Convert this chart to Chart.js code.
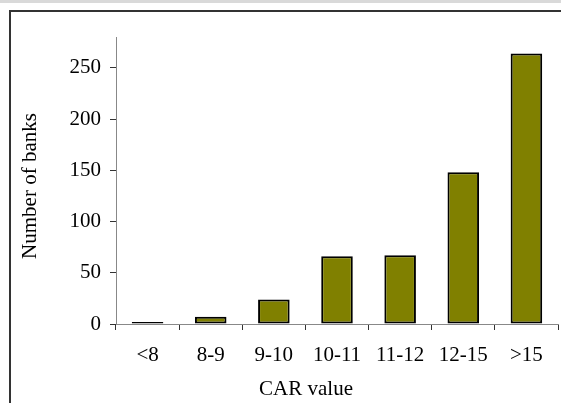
<!DOCTYPE html>
<html>
<head>
<meta charset="utf-8">
<script src="https://cdn.jsdelivr.net/npm/chart.js@4.4.0/dist/chart.umd.min.js"></script>
<style>
  html, body { margin: 0; padding: 0; background: #fff; }
  #wrap { position: relative; width: 561px; height: 403px; overflow: hidden; }
  #band { position: absolute; left: 0; top: 0; width: 561px; height: 3px; background: #d9d9d9; }
  #frame { position: absolute; left: 9px; top: 10px; width: 700px; height: 500px;
           border-left: 2px solid #333; border-top: 2px solid #333; }
  canvas { position: absolute; left: 0; top: 0; }
</style>
</head>
<body>
<div id="wrap">
  <div id="band"></div>
  <div id="frame"></div>
  <canvas id="chart" width="561" height="403"></canvas>
</div>
<script>
// CAR value buckets and how many banks fall in each
const carBuckets = ["<8", "8-9", "9-10", "10-11", "11-12", "12-15", ">15"];
const bankCounts = [2, 7, 24, 66, 67, 148, 264];
const yTicks = [0, 50, 100, 150, 200, 250];
const xTitle = "CAR value";
const yTitle = "Number of banks";

const serif = "'Liberation Serif', 'Times New Roman', serif";
const fontSize = 21;

// axis titles sit a bit off the chart-area centre in the original, so draw them by hand
const axisTitles = {
    id: "axisTitles",
    afterDraw(chart) {
        const ctx = chart.ctx;
        ctx.save();
        ctx.fillStyle = "#000";
        ctx.font = fontSize + "px " + serif;
        ctx.textAlign = "center";
        ctx.textBaseline = "alphabetic";
        ctx.fillText(xTitle, 306, 395);
        ctx.translate(36, 186);
        ctx.rotate(-Math.PI / 2);
        ctx.fillText(yTitle, 0, 0);
        ctx.restore();
    }
};

new Chart(document.getElementById("chart"), {
    type: "bar",
    data: {
        labels: carBuckets,
        datasets: [{
            data: bankCounts,
            backgroundColor: "#808000",
            borderColor: "#000",
            borderWidth: 2,
            borderSkipped: false,
            barPercentage: 0.5,
            categoryPercentage: 1
        }]
    },
    options: {
        responsive: false,
        animation: false,
        layout: { padding: { left: 0, top: 37, right: 3, bottom: 0 } },
        plugins: { legend: { display: false }, tooltip: { enabled: false } },
        scales: {
            x: {
                afterFit: s => { s.height = 79; },
                grid: { drawOnChartArea: false, color: "#333", tickLength: 6, offset: true },
                border: { color: "#888", width: 1 },
                ticks: { color: "#000", font: { family: serif, size: fontSize }, padding: 13, maxRotation: 0 }
            },
            y: {
                min: 0,
                max: 280,
                afterFit: s => { s.width = 116; },
                afterBuildTicks: s => { s.ticks = yTicks.map(v => ({ value: v })); },
                grid: { drawOnChartArea: false, color: "#333", tickLength: 6 },
                border: { color: "#888", width: 1 },
                ticks: { color: "#000", font: { family: serif, size: fontSize }, padding: 9 }
            }
        }
    },
    plugins: [axisTitles]
});
</script>
</body>
</html>
